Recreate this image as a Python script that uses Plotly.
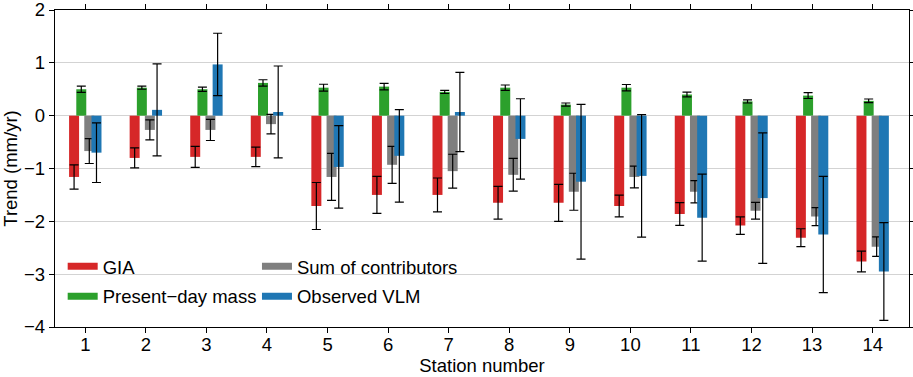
import plotly.graph_objects as go

stations = list(range(1, 15))
tick_labels = [str(s) for s in stations]

gia = [-1.16, -0.80, -0.78, -0.78, -1.71, -1.50, -1.50, -1.65, -1.65, -1.71, -1.86, -2.08, -2.31, -2.76]
gia_err = [0.23, 0.19, 0.20, 0.185, 0.445, 0.35, 0.32, 0.31, 0.35, 0.205, 0.215, 0.165, 0.17, 0.195]
pdm = [0.50, 0.53, 0.50, 0.62, 0.53, 0.55, 0.45, 0.53, 0.21, 0.53, 0.40, 0.27, 0.38, 0.28]
pdm_err = [0.06, 0.03, 0.04, 0.06, 0.065, 0.06, 0.03, 0.05, 0.03, 0.06, 0.045, 0.03, 0.055, 0.035]
sumc = [-0.67, -0.27, -0.27, -0.16, -1.16, -0.93, -1.05, -1.12, -1.44, -1.16, -1.44, -1.80, -1.91, -2.48]
sum_err = [0.235, 0.19, 0.20, 0.185, 0.445, 0.35, 0.32, 0.31, 0.35, 0.205, 0.21, 0.16, 0.17, 0.185]
vlm = [-0.70, 0.11, 0.97, 0.07, -0.97, -0.76, 0.07, -0.44, -1.25, -1.14, -1.93, -1.56, -2.25, -2.95]
vlm_err = [0.565, 0.87, 0.59, 0.87, 0.78, 0.875, 0.75, 0.76, 1.465, 1.16, 0.825, 1.235, 1.1, 0.925]

FONT = "Liberation Sans, Arial, Helvetica, sans-serif"
FS = 18.5
W = 0.165

series = [
    ("GIA", gia, gia_err, "#d62728", -0.2675, "legend", 0.009, 0.190),
    ("Present\u2212day mass", pdm, pdm_err, "#2ca02c", -0.1485, "legend3", 0.009, 0.0956),
    ("Sum of contributors", sumc, sum_err, "#7f7f7f", -0.0165, "legend2", 0.2365, 0.190),
    ("Observed VLM", vlm, vlm_err, "#1f77b4", 0.1025, "legend4", 0.2365, 0.0956),
]

fig = go.Figure()
legends = {}
for name, vals, errs, col, off, leg, lx, ly in series:
    fig.add_trace(go.Bar(
        x=stations, y=vals, name=name, marker=dict(color=col, line=dict(width=0)),
        width=W, offset=off, showlegend=False,
        error_y=dict(type="data", array=errs, visible=True, color="black",
                     thickness=1.2, width=4.5),
    ))
    fig.add_trace(go.Scatter(
        x=[None], y=[None], mode="lines", name=name,
        line=dict(color=col, width=7), legend=leg, showlegend=True,
    ))
    legends[leg] = dict(x=lx, y=ly, xanchor="left", yanchor="middle",
                        bgcolor="rgba(0,0,0,0)", borderwidth=0,
                        font=dict(family=FONT, size=FS, color="black"))

fig.update_layout(
    width=913, height=377,
    margin=dict(l=55, r=4, t=10, b=50, autoexpand=False),
    barmode="overlay",
    plot_bgcolor="white", paper_bgcolor="white",
    font=dict(family=FONT, size=FS, color="black"),
    **legends,
)
fig.update_xaxes(
    range=[0.5, 14.6], tickmode="array", tickvals=stations, ticktext=tick_labels,
    showgrid=False, zeroline=False, showline=True, linecolor="black", linewidth=1.3,
    mirror="ticks", ticks="outside", ticklen=5, tickwidth=1.2, tickcolor="black",
    ticklabelstandoff=-4,
    title=dict(text="Station number", standoff=0, font=dict(size=FS)),
    tickfont=dict(size=FS), automargin=False,
)
fig.update_yaxes(
    range=[-4, 2], dtick=1, tick0=0,
    showgrid=True, gridcolor="#d3d3d3", gridwidth=1,
    zeroline=True, zerolinecolor="#d3d3d3", zerolinewidth=1,
    showline=True, linecolor="black", linewidth=1.3,
    mirror="ticks", ticks="outside", ticklen=5, tickwidth=1.2, tickcolor="black",
    ticklabeloverflow="allow",
    title=dict(text="Trend (mm/yr)", standoff=4, font=dict(size=FS)),
    tickfont=dict(size=FS), automargin=False,
)

fig.write_html("out.html", config={"displayModeBar": False},
               post_script="document.body.style.margin='0';document.body.style.padding='0';")
